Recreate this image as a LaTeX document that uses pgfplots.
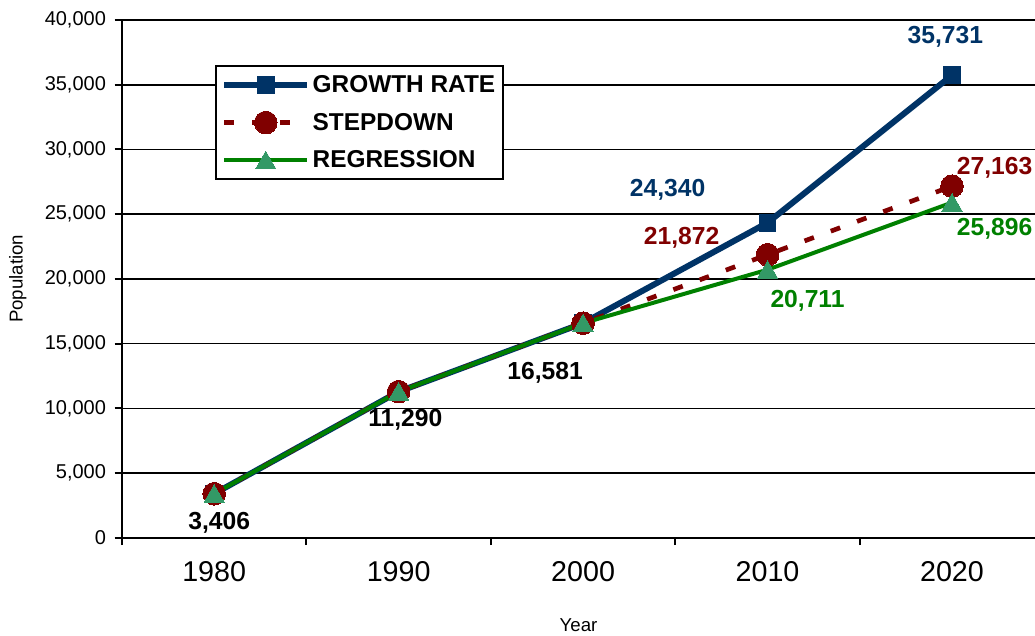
\documentclass[border=0pt]{standalone}
\usepackage{pgfplots}
\pgfplotsset{compat=1.18}
\usepackage{fontspec}
\setmainfont{Liberation Sans}
\usetikzlibrary{calc}

\definecolor{navy}{HTML}{003366}
\definecolor{dred}{HTML}{800000}
\definecolor{lgreen}{HTML}{008000}
\definecolor{tgreen}{HTML}{339966}

\begin{document}
\begin{tikzpicture}
\begin{axis}[
  scale only axis,
  width=685pt, height=388.5pt,
  xmin=-0.5, xmax=4.45,
  ymin=0, ymax=40000,
  clip=false,
  axis x line*=bottom, axis y line*=left,
  axis line style={line width=1.5pt, -},
  xtick={0,1,2,3,4},
  xticklabels={1980,1990,2000,2010,2020},
  minor xtick={-0.5,0.5,1.5,2.5,3.5},
  major x tick style={draw=none},
  minor x tick style={line width=1.5pt, black},
  minor tick length=5.5pt,
  ytick={0,5000,...,35000},
  extra y ticks={40000},
  extra y tick style={grid style={gray!45, line width=0.6pt}},
  y tick style={line width=1.5pt, black},
  major tick length=5.5pt,
  tick align=outside,
  ymajorgrids,
  major grid style={black, line width=1.2pt},
  /pgf/number format/assume math mode=true,
  /pgf/number format/1000 sep={,},
  scaled y ticks=false,
  y tick label style={font=\fontsize{15}{17}\selectfont, xshift=-3pt},
  x tick label style={font=\fontsize{21.5}{24}\selectfont, yshift=-9pt},
  xlabel={Year}, ylabel={Population},
  every axis x label/.style={at={(axis description cs:0.5,-0.168)}, anchor=center, font=\fontsize{14}{16}\selectfont},
  every axis y label/.style={at={(axis description cs:-0.114,0.5)}, anchor=center, rotate=90, font=\fontsize{14}{16}\selectfont},
  legend cell align=left,
  legend style={at={(0.102,0.913)}, anchor=north west, draw=black, line width=1.5pt,
    fill=white, font=\bfseries\fontsize{18.3}{20}\selectfont, row sep=10pt,
    inner xsep=4pt, inner ysep=5pt},
  legend image code/.code={
    \draw[mark repeat=2, mark phase=2] plot coordinates {(0pt,0pt) (31pt,0pt) (62pt,0pt)};
  },
]
% growth-rate projection
\addplot[navy, line width=4.5pt, mark=square*, mark size=6.25pt,
  mark options={solid, fill=navy, draw=navy, line width=0pt}]
  coordinates {(0,3406) (1,11290) (2,16581) (3,24340) (4,35731)};
\addlegendentry{GROWTH RATE}
% step-down projection
\addplot[dred, line width=3.5pt, dash pattern=on 7.5pt off 13.5pt, mark=*, mark size=8.5pt,
  mark options={solid, fill=dred, draw=dred, line width=0pt}]
  coordinates {(0,3406) (1,11290) (2,16581) (3,21872) (4,27163)};
\addlegendentry{STEPDOWN}
% regression projection
\addplot[lgreen, line width=3pt, mark=triangle*, mark size=8.8pt,
  mark options={solid, fill=tgreen, draw=tgreen, line width=0pt, yshift=-2pt}]
  coordinates {(0,3406) (1,11290) (2,16581) (3,20711) (4,25896)};
\addlegendentry{REGRESSION}

% value labels
\begin{scope}[every node/.style={font=\bfseries\fontsize{18.5}{20}\selectfont}]
\node[black] at ($(axis cs:0,3406)+(3.75pt,-22pt)$) {3,406};
\node[black] at ($(axis cs:1,11290)+(5pt,-21pt)$) {11,290};
\node[black] at ($(axis cs:2,16581)+(-28.5pt,-37.5pt)$) {16,581};
\node[navy] at ($(axis cs:3,24340)+(-75pt,25pt)$) {24,340};
\node[navy] at ($(axis cs:4,35731)+(-5pt,29pt)$) {35,731};
\node[dred] at ($(axis cs:3,21872)+(-64.5pt,13pt)$) {21,872};
\node[dred] at ($(axis cs:4,27163)+(32pt,14pt)$) {27,163};
\node[lgreen] at ($(axis cs:3,20711)+(30pt,-23pt)$) {20,711};
\node[lgreen] at ($(axis cs:4,25896)+(32pt,-20pt)$) {25,896};
\end{scope}

\coordinate (sw) at (rel axis cs:0,0);
\coordinate (ne) at (rel axis cs:1,1);
\end{axis}
\pgfresetboundingbox
\path[use as bounding box] ($(sw)+(-91.5pt,-73.5pt)$) rectangle ($(ne)+(0pt,15pt)$);
\end{tikzpicture}
\end{document}
